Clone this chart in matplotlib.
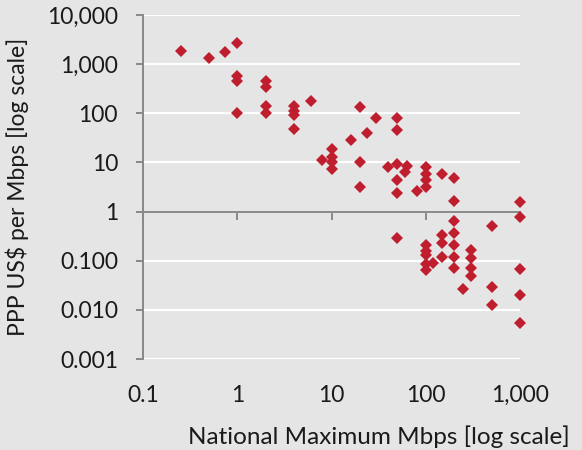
import matplotlib
matplotlib.use("Agg")
import matplotlib.pyplot as plt
from matplotlib.ticker import NullLocator

# national max speed (Mbps) vs price (PPP US$ per Mbps)
mbps = [0.25, 0.5, 0.75, 1, 1, 1, 1, 2, 2, 2, 2, 4, 4, 4, 4, 6,
        8, 10, 10, 10, 10, 16, 20, 20, 20, 24, 30, 40,
        50, 50, 50, 50, 50, 50, 60, 63, 80,
        100, 100, 100, 100, 100, 100, 100, 100, 100, 120,
        150, 150, 150, 150,
        200, 200, 200, 200, 200, 200, 200, 250,
        300, 300, 300, 300, 500, 500, 500,
        1000, 1000, 1000, 1000, 1000]
price = [1850, 1350, 1750, 2750, 570, 460, 100, 450, 340, 140, 100, 140, 110, 92, 48, 180,
         11.2, 18.5, 13, 10.4, 7.5, 28, 136, 10.4, 3.2, 40, 79, 8.2,
         79, 46, 9.3, 4.4, 2.4, 0.29, 6.4, 8.3, 2.6,
         8.2, 5.8, 4.4, 3.2, 0.21, 0.155, 0.13, 0.086, 0.065, 0.09,
         5.8, 0.34, 0.23, 0.12,
         4.9, 1.65, 0.63, 0.37, 0.21, 0.12, 0.071, 0.026,
         0.167, 0.113, 0.071, 0.05, 0.5, 0.029, 0.0127,
         1.6, 0.79, 0.067, 0.020, 0.0054]

xticks = [0.1, 1, 10, 100, 1000]
xlabels = ["0.1", "1", "10", "100", "1,000"]
yticks = [0.001, 0.01, 0.1, 1, 10, 100, 1000, 10000]
ylabels = ["0.001", "0.010", "0.100", "1", "10", "100", "1,000", "10,000"]

bg = "#e5e5e5"
red = "#be1e2d"
gray = "#888888"
txt = "#1a1a1a"
fs = 16.5
plt.rcParams["font.family"] = ["Lato", "DejaVu Sans"]

fig = plt.figure(figsize=(5.82, 4.5), dpi=100, facecolor=bg)
ax = fig.add_axes([143 / 582, 1 - 359 / 450, (520 - 143) / 582, (359 - 15) / 450])
ax.set_facecolor(bg)
ax.set_xscale("log")
ax.set_yscale("log")
ax.set_xlim(0.1, 1000)
ax.set_ylim(0.001, 10000)

ax.plot(mbps, price, "D", ms=6.3, color=red, mew=0, clip_on=False, zorder=3)

for s in ["top", "right"]:
    ax.spines[s].set_visible(False)
ax.spines["bottom"].set_position(("data", 1))
ax.spines["bottom"].set_color(gray)
ax.spines["left"].set_color(gray)
ax.spines["bottom"].set_linewidth(1.4)
ax.spines["left"].set_linewidth(1.4)
ax.spines["bottom"].set_zorder(2)

ax.yaxis.grid(True, color="white", lw=1.6)
ax.set_axisbelow(True)

ax.set_yticks(yticks, ylabels)
ax.set_xticks(xticks)
ax.xaxis.set_minor_locator(NullLocator())
ax.yaxis.set_minor_locator(NullLocator())
ax.tick_params(axis="y", direction="out", length=5, width=1.4, color=gray,
               labelsize=fs, labelcolor=txt, pad=13)
ax.tick_params(axis="x", direction="out", length=5.5, width=1.4, color=gray,
               labelbottom=False)

sec = ax.secondary_xaxis(0)
sec.set_xticks(xticks, xlabels)
sec.xaxis.set_minor_locator(NullLocator())
sec.tick_params(length=0, pad=18.5, labelsize=fs, labelcolor=txt)
sec.spines["bottom"].set_visible(False)

ax.set_ylabel("PPP US$ per Mbps [log scale]", fontsize=fs, color=txt)
ax.yaxis.set_label_coords((29 - 143) / 377, 0.5)
fig.text(378.5 / 582, 1 - 437 / 450, "National Maximum Mbps [log scale]",
         ha="center", va="center", fontsize=17.5, color=txt)

fig.savefig("out.png", dpi=100, facecolor=bg)
